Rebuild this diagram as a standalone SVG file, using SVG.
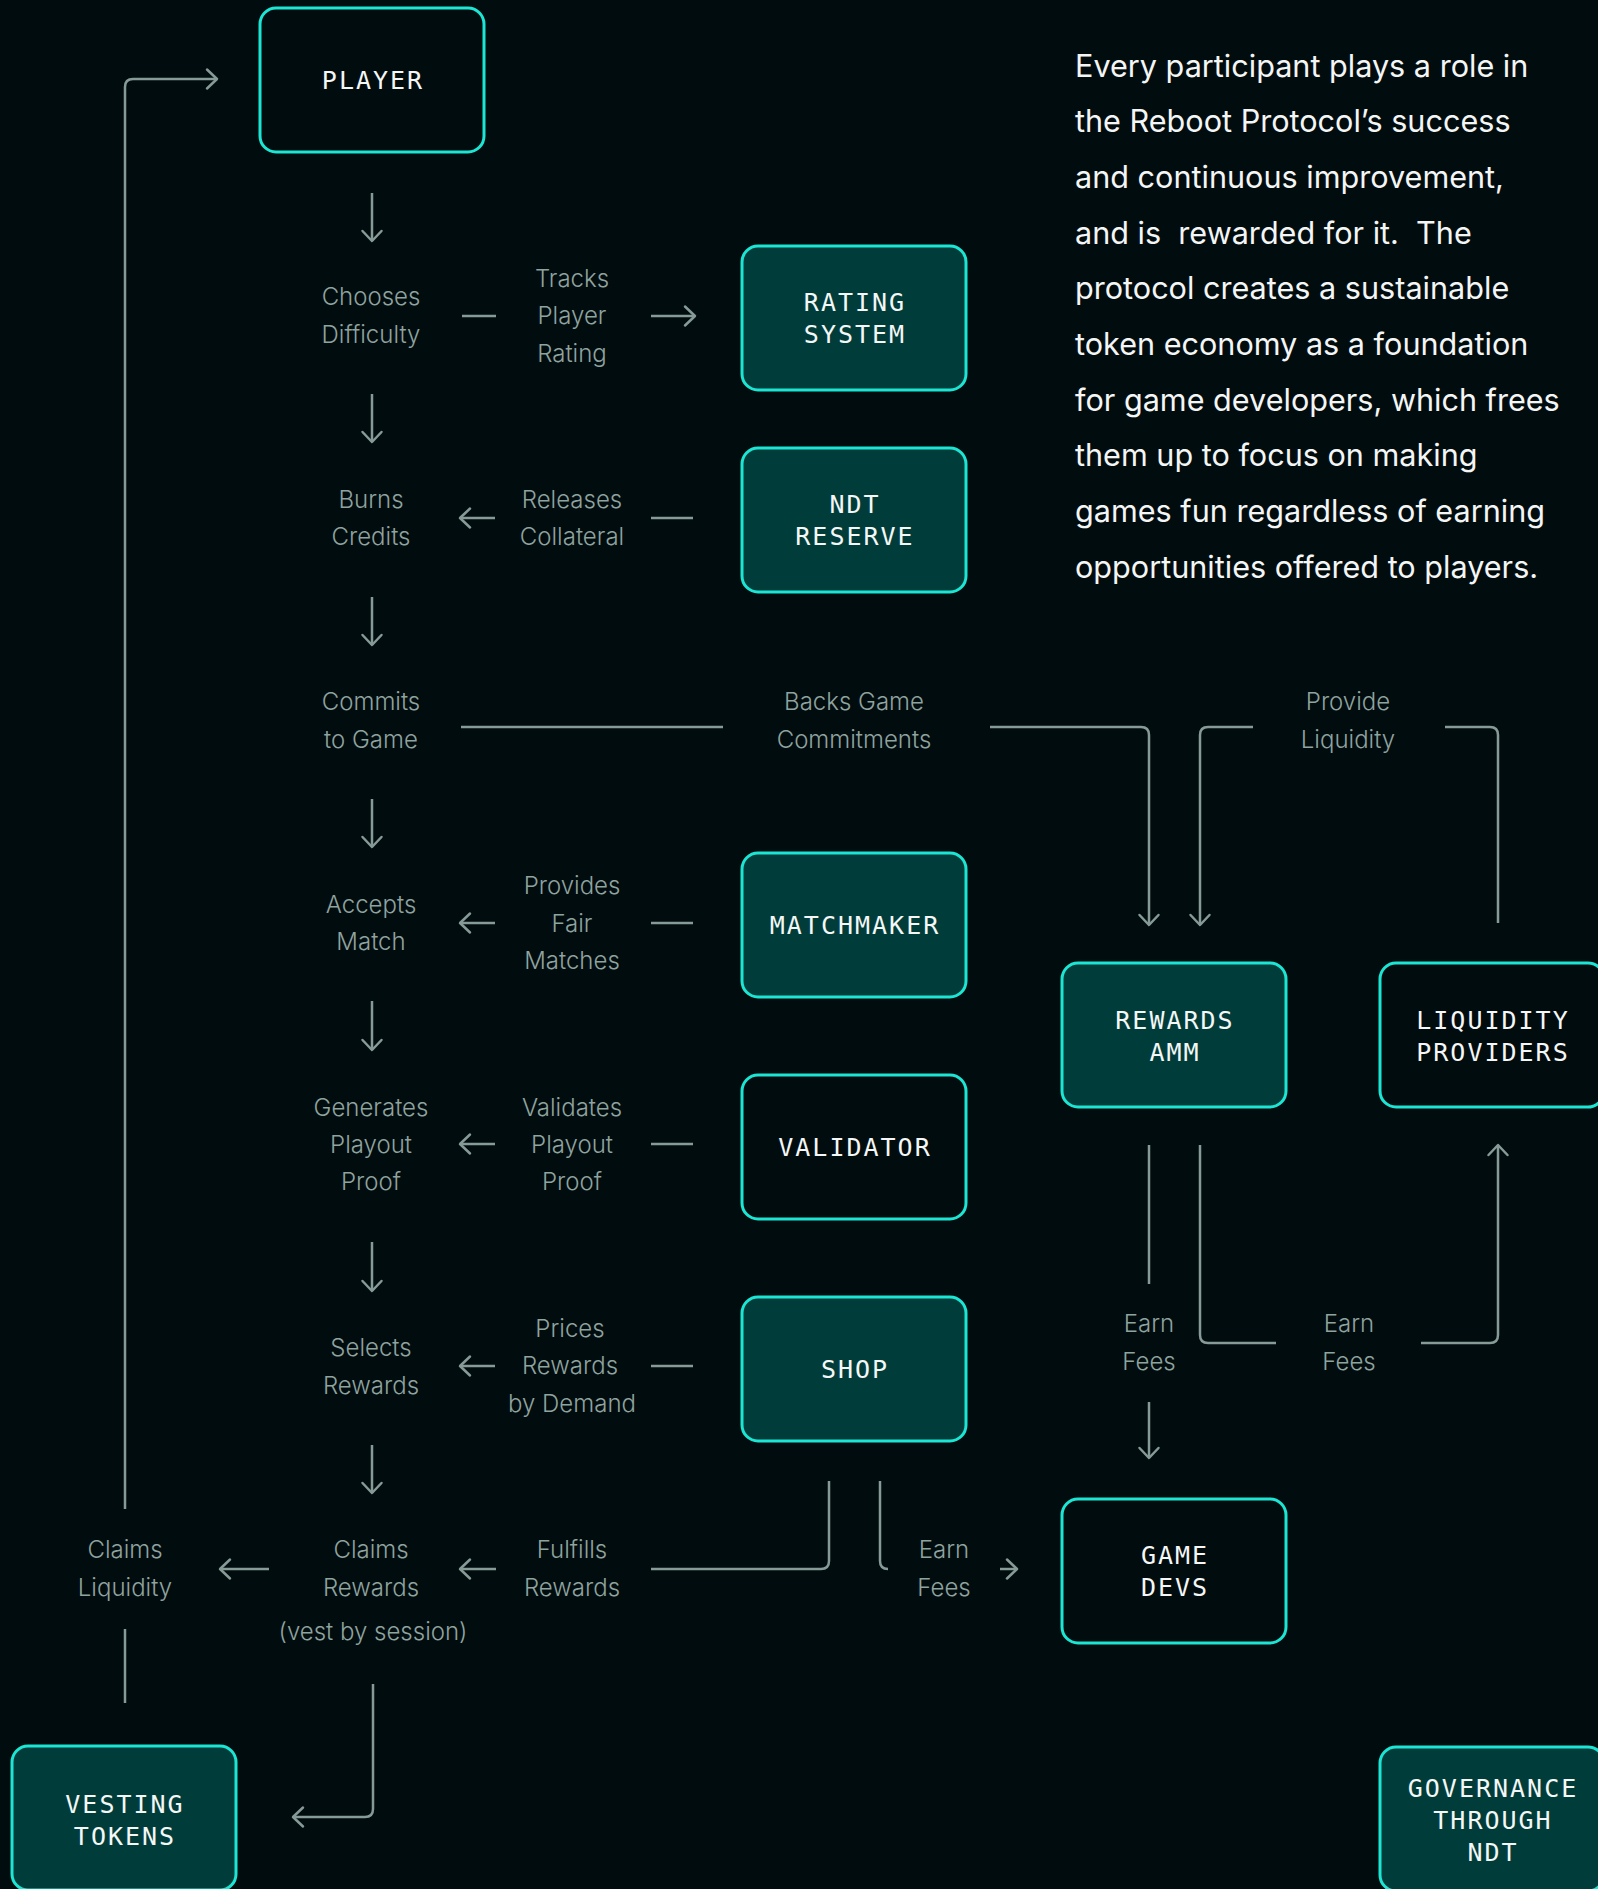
<svg xmlns="http://www.w3.org/2000/svg" width="1598" height="1889" viewBox="0 0 1598 1889">
  <style>
    .box { stroke: #1ce6d3; stroke-width: 3; }
    .dark { fill: #010c0f; }
    .teal { fill: #003d3a; }
    .nt { font-family: "DejaVu Sans Mono", "Liberation Mono", monospace; font-size: 25px; letter-spacing: 2px; fill: #f4f7f6; text-anchor: middle; }
    .lb { font-family: Inter, "Noto Sans", sans-serif; font-weight: 300; font-size: 24px; fill: #8fa39f; text-anchor: middle; }
    .para { font-family: Inter, "Noto Sans", sans-serif; font-size: 30.6px; fill: #f4f6f5; white-space: pre; }
    .cn { fill: none; stroke: #869a96; stroke-width: 2.5; }
  </style>
  <defs>
    <marker id="arr" viewBox="-12 -12 24 24" markerWidth="24" markerHeight="24" refX="0" refY="0" orient="auto" markerUnits="userSpaceOnUse">
      <path d="M -10 -9.5 L 0 0 L -10 9.5" fill="none" stroke="#869a96" stroke-width="2.5" stroke-linecap="round" stroke-linejoin="round"/>
    </marker>
  </defs>

  <rect x="0" y="0" width="1598" height="1889" fill="#010c0f"/>

  <!-- connectors -->
  <g id="connectors" class="cn">
    <!-- main vertical flow -->
    <path d="M372 193 V241" marker-end="url(#arr)"/>
    <path d="M372 394 V442" marker-end="url(#arr)"/>
    <path d="M372 597 V645" marker-end="url(#arr)"/>
    <path d="M372 799 V847" marker-end="url(#arr)"/>
    <path d="M372 1001 V1050" marker-end="url(#arr)"/>
    <path d="M372 1242 V1291" marker-end="url(#arr)"/>
    <path d="M372 1445 V1493" marker-end="url(#arr)"/>

    <!-- rating system -->
    <path d="M462 316 H496"/>
    <path d="M651 316 H695" marker-end="url(#arr)"/>
    <!-- ndt reserve -->
    <path d="M693 518 H651"/>
    <path d="M495 518 H460" marker-end="url(#arr)"/>
    <!-- matchmaker -->
    <path d="M693 923 H651"/>
    <path d="M495 923 H460" marker-end="url(#arr)"/>
    <!-- validator -->
    <path d="M693 1144 H651"/>
    <path d="M495 1144 H460" marker-end="url(#arr)"/>
    <!-- shop -->
    <path d="M693 1366 H651"/>
    <path d="M495 1366 H460" marker-end="url(#arr)"/>

    <!-- commitments to rewards amm -->
    <path d="M461 727 H723"/>
    <path d="M990 727 H1141 Q1149 727 1149 735 V925" marker-end="url(#arr)"/>
    <!-- liquidity providers to rewards amm -->
    <path d="M1498 923 V735 Q1498 727 1490 727 H1445"/>
    <path d="M1253 727 H1208 Q1200 727 1200 735 V925" marker-end="url(#arr)"/>

    <!-- rewards amm fees -->
    <path d="M1149 1145 V1284"/>
    <path d="M1149 1402 V1458" marker-end="url(#arr)"/>
    <path d="M1200 1145 V1335 Q1200 1343 1208 1343 H1276"/>
    <path d="M1421 1343 H1490 Q1498 1343 1498 1335 V1145" marker-end="url(#arr)"/>

    <!-- shop to rewards / game devs -->
    <path d="M829 1481 V1561 Q829 1569 821 1569 H651"/>
    <path d="M880 1481 V1561 Q880 1569 888 1569"/>
    <path d="M1000 1569 H1017" marker-end="url(#arr)"/>
    <path d="M496 1569 H460" marker-end="url(#arr)"/>
    <path d="M269 1569 H220" marker-end="url(#arr)"/>

    <!-- claims liquidity loop back to player -->
    <path d="M125 1509 V87 Q125 79 133 79 H217" marker-end="url(#arr)"/>
    <path d="M125 1629 V1703"/>

    <!-- claims rewards to vesting tokens -->
    <path d="M373 1684 V1809 Q373 1817 365 1817 H293" marker-end="url(#arr)"/>
  </g>

  <!-- nodes -->
  <g id="player">
    <rect class="box dark" x="260" y="8" width="224" height="144" rx="16"/>
    <text class="nt" x="373" y="89">PLAYER</text>
  </g>
  <g id="rating-system">
    <rect class="box teal" x="742" y="246" width="224" height="144" rx="16"/>
    <text class="nt" x="855" y="311">RATING</text>
    <text class="nt" x="855" y="343">SYSTEM</text>
  </g>
  <g id="ndt-reserve">
    <rect class="box teal" x="742" y="448" width="224" height="144" rx="16"/>
    <text class="nt" x="855" y="513">NDT</text>
    <text class="nt" x="855" y="545">RESERVE</text>
  </g>
  <g id="matchmaker">
    <rect class="box teal" x="742" y="853" width="224" height="144" rx="16"/>
    <text class="nt" x="855" y="934">MATCHMAKER</text>
  </g>
  <g id="validator">
    <rect class="box dark" x="742" y="1075" width="224" height="144" rx="16"/>
    <text class="nt" x="855" y="1156">VALIDATOR</text>
  </g>
  <g id="shop">
    <rect class="box teal" x="742" y="1297" width="224" height="144" rx="16"/>
    <text class="nt" x="855" y="1378">SHOP</text>
  </g>
  <g id="rewards-amm">
    <rect class="box teal" x="1062" y="963" width="224" height="144" rx="16"/>
    <text class="nt" x="1175" y="1029">REWARDS</text>
    <text class="nt" x="1175" y="1061">AMM</text>
  </g>
  <g id="liquidity-providers">
    <rect class="box dark" x="1380" y="963" width="224" height="144" rx="16"/>
    <text class="nt" x="1493" y="1029">LIQUIDITY</text>
    <text class="nt" x="1493" y="1061">PROVIDERS</text>
  </g>
  <g id="game-devs">
    <rect class="box dark" x="1062" y="1499" width="224" height="144" rx="16"/>
    <text class="nt" x="1175" y="1564">GAME</text>
    <text class="nt" x="1175" y="1596">DEVS</text>
  </g>
  <g id="vesting-tokens">
    <rect class="box teal" x="12" y="1746" width="224" height="144" rx="16"/>
    <text class="nt" x="125" y="1813">VESTING</text>
    <text class="nt" x="125" y="1845">TOKENS</text>
  </g>
  <g id="governance">
    <rect class="box teal" x="1380" y="1747" width="224" height="144" rx="16"/>
    <text class="nt" x="1493" y="1797">GOVERNANCE</text>
    <text class="nt" x="1493" y="1829">THROUGH</text>
    <text class="nt" x="1493" y="1861">NDT</text>
  </g>

  <!-- step and flow labels -->
  <g id="labels" class="lb">
    <text x="371" y="305">Chooses</text>
    <text x="371" y="342.5">Difficulty</text>
    <text x="572" y="287">Tracks</text>
    <text x="572" y="324">Player</text>
    <text x="572" y="361.5">Rating</text>

    <text x="371" y="508">Burns</text>
    <text x="371" y="545">Credits</text>
    <text x="572" y="508">Releases</text>
    <text x="572" y="545">Collateral</text>

    <text x="371" y="710">Commits</text>
    <text x="371" y="747.5">to Game</text>
    <text x="854" y="710">Backs Game</text>
    <text x="854" y="747.5">Commitments</text>
    <text x="1348" y="710">Provide</text>
    <text x="1348" y="747.5">Liquidity</text>

    <text x="371" y="913">Accepts</text>
    <text x="371" y="950">Match</text>
    <text x="572" y="894">Provides</text>
    <text x="572" y="931.5">Fair</text>
    <text x="572" y="968.5">Matches</text>

    <text x="371" y="1115.5">Generates</text>
    <text x="371" y="1153">Playout</text>
    <text x="371" y="1190">Proof</text>
    <text x="572" y="1115.5">Validates</text>
    <text x="572" y="1153">Playout</text>
    <text x="572" y="1190">Proof</text>

    <text x="371" y="1356">Selects</text>
    <text x="371" y="1393.5">Rewards</text>
    <text x="570" y="1336.5">Prices</text>
    <text x="570" y="1374">Rewards</text>
    <text x="572" y="1411.5">by Demand</text>

    <text x="1149" y="1332">Earn</text>
    <text x="1149" y="1369.5">Fees</text>
    <text x="1349" y="1332">Earn</text>
    <text x="1349" y="1369.5">Fees</text>

    <text x="125" y="1558">Claims</text>
    <text x="125" y="1595.5">Liquidity</text>
    <text x="371" y="1558">Claims</text>
    <text x="371" y="1595.5">Rewards</text>
    <text x="373" y="1640">(vest by session)</text>
    <text x="572" y="1558">Fulfills</text>
    <text x="572" y="1595.5">Rewards</text>
    <text x="944" y="1558">Earn</text>
    <text x="944" y="1595.5">Fees</text>
  </g>

  <!-- description -->
  <g id="description" class="para">
    <text x="1075" y="76.5">Every participant plays a role in</text>
    <text x="1075" y="132">the Reboot Protocol’s success</text>
    <text x="1075" y="188">and continuous improvement,</text>
    <text x="1075" y="243.5" xml:space="preserve">and is  rewarded for it.  The</text>
    <text x="1075" y="299">protocol creates a sustainable</text>
    <text x="1075" y="355">token economy as a foundation</text>
    <text x="1075" y="410.5">for game developers, which frees</text>
    <text x="1075" y="466">them up to focus on making</text>
    <text x="1075" y="522">games fun regardless of earning</text>
    <text x="1075" y="577.5">opportunities offered to players.</text>
  </g>
</svg>
